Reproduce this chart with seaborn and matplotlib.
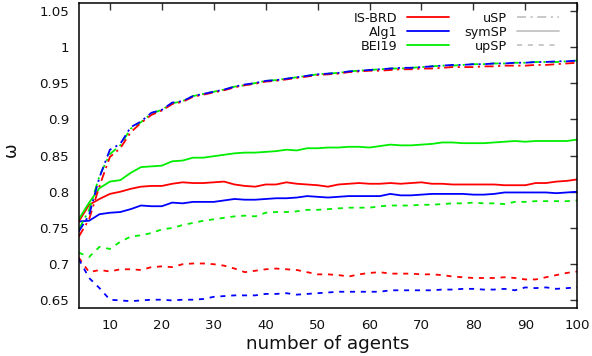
import numpy as np
import pandas as pd
import matplotlib
matplotlib.use("Agg")
import matplotlib.pyplot as plt
from matplotlib.lines import Line2D
import seaborn as sns

# ---------------- data ----------------
agents = list(range(4, 101, 2))

alg1_usp = [0.745, 0.768, 0.820, 0.858, 0.866, 0.889, 0.897, 0.909, 0.913, 0.923,
            0.925, 0.932, 0.935, 0.938, 0.941, 0.945, 0.948, 0.950, 0.953, 0.954,
            0.956, 0.958, 0.960, 0.962, 0.963, 0.964, 0.966, 0.967, 0.968, 0.969,
            0.970, 0.971, 0.971, 0.972, 0.973, 0.974, 0.975, 0.975, 0.976, 0.976,
            0.977, 0.977, 0.978, 0.978, 0.979, 0.979, 0.980, 0.980, 0.981]
bei19_usp = [0.748, 0.775, 0.822, 0.852, 0.864, 0.887, 0.896, 0.908, 0.913, 0.922,
             0.925, 0.932, 0.935, 0.938, 0.941, 0.945, 0.947, 0.950, 0.953, 0.954,
             0.956, 0.958, 0.960, 0.962, 0.963, 0.964, 0.966, 0.967, 0.968, 0.969,
             0.970, 0.970, 0.971, 0.972, 0.973, 0.974, 0.974, 0.975, 0.976, 0.976,
             0.977, 0.977, 0.978, 0.978, 0.979, 0.979, 0.979, 0.980, 0.981]
isbrd_usp = [0.738, 0.762, 0.808, 0.848, 0.860, 0.882, 0.895, 0.906, 0.912, 0.921,
             0.924, 0.931, 0.934, 0.937, 0.940, 0.944, 0.947, 0.949, 0.952, 0.953,
             0.955, 0.957, 0.959, 0.961, 0.962, 0.963, 0.965, 0.966, 0.967, 0.967,
             0.968, 0.969, 0.969, 0.970, 0.970, 0.971, 0.972, 0.972, 0.972, 0.973,
             0.973, 0.974, 0.974, 0.974, 0.975, 0.975, 0.976, 0.977, 0.978]

bei19_sym = [0.762, 0.785, 0.805, 0.814, 0.816, 0.826, 0.834, 0.835, 0.836, 0.842,
             0.843, 0.847, 0.847, 0.849, 0.851, 0.853, 0.854, 0.854, 0.855, 0.856,
             0.858, 0.857, 0.860, 0.860, 0.861, 0.861, 0.862, 0.862, 0.861, 0.863,
             0.865, 0.864, 0.864, 0.865, 0.866, 0.868, 0.868, 0.867, 0.867, 0.867,
             0.868, 0.869, 0.870, 0.869, 0.870, 0.870, 0.870, 0.870, 0.872]
isbrd_sym = [0.759, 0.782, 0.790, 0.797, 0.800, 0.804, 0.807, 0.808, 0.808, 0.811,
             0.813, 0.812, 0.812, 0.813, 0.814, 0.810, 0.808, 0.807, 0.810, 0.810,
             0.813, 0.811, 0.810, 0.809, 0.807, 0.810, 0.811, 0.812, 0.811, 0.811,
             0.812, 0.811, 0.812, 0.813, 0.811, 0.811, 0.810, 0.810, 0.810, 0.810,
             0.810, 0.809, 0.809, 0.809, 0.812, 0.812, 0.814, 0.815, 0.817]
alg1_sym = [0.759, 0.760, 0.769, 0.771, 0.772, 0.776, 0.781, 0.780, 0.780, 0.785,
            0.784, 0.786, 0.786, 0.786, 0.788, 0.790, 0.789, 0.789, 0.790, 0.791,
            0.791, 0.792, 0.794, 0.793, 0.792, 0.793, 0.794, 0.794, 0.794, 0.794,
            0.797, 0.795, 0.795, 0.796, 0.797, 0.797, 0.797, 0.797, 0.796, 0.796,
            0.797, 0.799, 0.799, 0.799, 0.799, 0.799, 0.798, 0.799, 0.800]

bei19_up = [0.716, 0.710, 0.724, 0.721, 0.731, 0.738, 0.740, 0.743, 0.748, 0.750,
            0.754, 0.757, 0.760, 0.762, 0.764, 0.766, 0.767, 0.766, 0.771, 0.772,
            0.772, 0.773, 0.775, 0.775, 0.776, 0.777, 0.778, 0.778, 0.778, 0.780,
            0.781, 0.781, 0.781, 0.782, 0.782, 0.783, 0.784, 0.784, 0.785, 0.784,
            0.784, 0.783, 0.786, 0.786, 0.787, 0.787, 0.787, 0.787, 0.788]
isbrd_up = [0.709, 0.689, 0.692, 0.690, 0.693, 0.693, 0.692, 0.696, 0.697, 0.696,
            0.700, 0.701, 0.701, 0.700, 0.698, 0.694, 0.689, 0.691, 0.693, 0.694,
            0.693, 0.692, 0.689, 0.686, 0.686, 0.685, 0.683, 0.686, 0.688, 0.689,
            0.687, 0.687, 0.687, 0.686, 0.686, 0.685, 0.683, 0.682, 0.681, 0.681,
            0.681, 0.682, 0.681, 0.679, 0.679, 0.682, 0.685, 0.688, 0.690]
alg1_up = [0.707, 0.681, 0.667, 0.651, 0.650, 0.649, 0.650, 0.651, 0.651, 0.650,
           0.651, 0.651, 0.652, 0.655, 0.656, 0.657, 0.657, 0.657, 0.659, 0.659,
           0.660, 0.658, 0.659, 0.660, 0.661, 0.662, 0.662, 0.662, 0.662, 0.662,
           0.664, 0.664, 0.664, 0.664, 0.664, 0.665, 0.665, 0.666, 0.666, 0.665,
           0.665, 0.666, 0.664, 0.668, 0.667, 0.668, 0.666, 0.667, 0.668]

algorithms = ["IS-BRD", "Alg1", "BEI19"]
variants = ["uSP", "symSP", "upSP"]
x_ticks = [10, 20, 30, 40, 50, 60, 70, 80, 90, 100]
y_ticks = [0.65, 0.7, 0.75, 0.8, 0.85, 0.9, 0.95, 1.0, 1.05]
y_ticklabels = ["0.65", "0.7", "0.75", "0.8", "0.85", "0.9", "0.95", "1", "1.05"]

# ---------------- style ----------------
sns.set_style("white")
plt.rcParams["font.family"] = ["DejaVu Sans"]

colors = {"IS-BRD": "#ff0000", "Alg1": "#0000ff", "BEI19": "#00ee00"}
styles = {"uSP": (0, (5, 2.5, 1.2, 2.5)), "symSP": "-", "upSP": (0, (2.8, 3.2))}

series = [
    ("BEI19", "upSP", bei19_up), ("IS-BRD", "upSP", isbrd_up), ("Alg1", "upSP", alg1_up),
    ("Alg1", "symSP", alg1_sym), ("IS-BRD", "symSP", isbrd_sym), ("BEI19", "symSP", bei19_sym),
    ("BEI19", "uSP", bei19_usp), ("IS-BRD", "uSP", isbrd_usp), ("Alg1", "uSP", alg1_usp),
]

fig = plt.figure(figsize=(5.92, 3.56), dpi=100)
ax = fig.add_axes([0.133, 0.1357, 0.842, 0.855])

for alg, var, vals in series:
    sns.lineplot(x=agents, y=vals, ax=ax, color=colors[alg], linestyle=styles[var],
                 linewidth=1.3, errorbar=None, legend=False)

ax.set_xlim(4, 100)
ax.set_ylim(0.64, 1.06)
ax.set_xticks(x_ticks)
ax.set_xticklabels([str(t) for t in x_ticks])
ax.set_yticks(y_ticks)
ax.set_yticklabels(y_ticklabels)
ax.tick_params(axis="both", direction="in", top=True, right=True, length=5, width=1,
               color="#333333", labelsize=9.6, labelcolor="#111111")
ax.tick_params(axis="y", pad=7)
ax.tick_params(axis="x", pad=8)
for s in ax.spines.values():
    s.set_visible(True)
    s.set_color("black")
    s.set_linewidth(1.1)

ax.set_xlabel("number of agents", fontsize=13.2, color="#111111", labelpad=2)
ax.set_ylabel("ω", fontsize=12.5, color="#111111")
ax.yaxis.set_label_coords(-0.118, 0.52)

handles = [Line2D([], [], color=colors[a], linestyle="-", linewidth=1.3, label=a) for a in algorithms]
handles += [Line2D([], [], color="#c4c4c4", linestyle=styles[v], linewidth=1.3, label=v) for v in variants]
leg = ax.legend(handles=handles, ncol=2, markerfirst=False, frameon=False,
                loc="upper right", bbox_to_anchor=(0.963, 0.972), borderpad=0, borderaxespad=0,
                fontsize=9.2, handlelength=3.3, handletextpad=0.75, columnspacing=1.2,
                labelspacing=0.08)
for t in leg.get_texts():
    t.set_color("#111111")

fig.savefig("out.png", dpi=100)
